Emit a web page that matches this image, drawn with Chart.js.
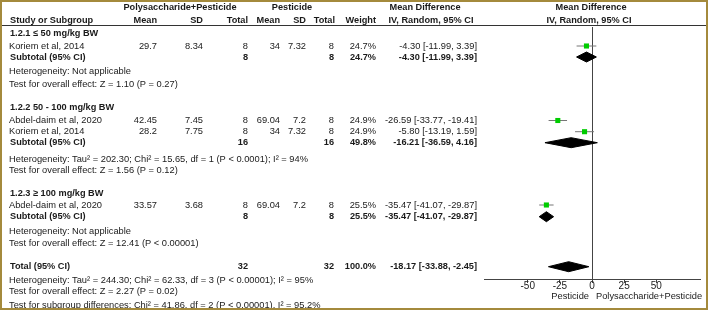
<!DOCTYPE html>
<html>
<head>
<meta charset="utf-8">
<script src="https://cdn.jsdelivr.net/npm/chart.js@4/dist/chart.umd.min.js"></script>
<style>
  html, body { margin: 0; padding: 0; background: #fff; }
  #wrap { width: 709px; height: 311px; }
</style>
</head>
<body>
<div id="wrap"><canvas id="forest" width="709" height="311"></canvas></div>
<script>
// study level data
const studyNames = ['Koriem et al, 2014', 'Abdel-daim et al, 2020', 'Koriem et al, 2014', 'Abdel-daim et al, 2020'];
const studyGroup = [0, 1, 1, 2];
const expMean = ['29.7', '42.45', '28.2', '33.57'];
const expSD = ['8.34', '7.45', '7.75', '3.68'];
const expN = [8, 8, 8, 8];
const ctlMean = ['34', '69.04', '34', '69.04'];
const ctlSD = ['7.32', '7.2', '7.32', '7.2'];
const ctlN = [8, 8, 8, 8];
const studyWeight = ['24.7%', '24.9%', '24.9%', '25.5%'];
const studyMD = [-4.30, -26.59, -5.80, -35.47];
const studyLow = [-11.99, -33.77, -13.19, -41.07];
const studyHigh = [3.39, -19.41, 1.59, -29.87];

// subgroup data
const groupNames = ['1.2.1 \u2264 50 mg/kg BW', '1.2.2 50 - 100 mg/kg BW', '1.2.3 \u2265 100 mg/kg BW'];
const groupExpN = [8, 16, 8];
const groupCtlN = [8, 16, 8];
const groupWeight = ['24.7%', '49.8%', '25.5%'];
const groupMD = [-4.30, -16.21, -35.47];
const groupLow = [-11.99, -36.59, -41.07];
const groupHigh = [3.39, 4.16, -29.87];
const groupHet = [
  'Heterogeneity: Not applicable',
  'Heterogeneity: Tau\u00b2 = 202.30; Chi\u00b2 = 15.65, df = 1 (P < 0.0001); I\u00b2 = 94%',
  'Heterogeneity: Not applicable'
];
const groupTest = [
  'Test for overall effect: Z = 1.10 (P = 0.27)',
  'Test for overall effect: Z = 1.56 (P = 0.12)',
  'Test for overall effect: Z = 12.41 (P < 0.00001)'
];

// overall
const totalN = [32, 32];
const totalWeight = '100.0%';
const totalMD = [-18.17, -33.88, -2.45]; // estimate, low, high
const totalNotes = [
  'Heterogeneity: Tau\u00b2 = 244.30; Chi\u00b2 = 62.33, df = 3 (P < 0.00001); I\u00b2 = 95%',
  'Test for overall effect: Z = 2.27 (P = 0.02)',
  'Test for subgroup differences: Chi\u00b2 = 41.86, df = 2 (P < 0.00001), I\u00b2 = 95.2%'
];

const xTicks = [-50, -25, 0, 25, 50];
const favoursLeft = 'Pesticide';
const favoursRight = 'Polysaccharide+Pesticide';

// layout: vertical position of each text line (top to bottom)
const rowY = [33, 46, 57, 71.5, 84, 107, 120.5, 131.7, 142.7, 159, 170.7, 193, 205, 216.7, 231.7, 243.3, 266.7, 280, 291.7, 305];

const FONT = "'Liberation Sans', Arial, sans-serif";
const fmt = v => v.toFixed(2);
const ciText = (m, lo, hi) => `${fmt(m)} [${fmt(lo)}, ${fmt(hi)}]`;

// build rows in display order
const rows = [];
let r = 0;
groupNames.forEach((g, gi) => {
  rows.push({ kind: 'group', y: rowY[r++], label: g });
  studyNames.forEach((s, si) => {
    if (studyGroup[si] === gi) rows.push({ kind: 'study', y: rowY[r++], idx: si });
  });
  rows.push({ kind: 'sub', y: rowY[r++], idx: gi });
  rows.push({ kind: 'note', y: rowY[r++], label: groupHet[gi] });
  rows.push({ kind: 'note', y: rowY[r++], label: groupTest[gi] });
});
rows.push({ kind: 'total', y: rowY[r++] });
totalNotes.forEach(n => rows.push({ kind: 'note', y: rowY[r++], label: n }));

// datasets
const datasets = [];
rows.filter(row => row.kind === 'study').forEach(row => {
  datasets.push({
    type: 'line',
    data: [{ x: studyLow[row.idx], y: row.y }, { x: studyHigh[row.idx], y: row.y }],
    borderColor: '#777',
    borderWidth: 1,
    pointRadius: 0,
    order: 2
  });
});
datasets.push({
  type: 'scatter',
  data: rows.filter(row => row.kind === 'study').map(row => ({ x: studyMD[row.idx], y: row.y })),
  pointStyle: 'rect',
  pointRadius: 3.6,
  backgroundColor: '#00cc00',
  borderWidth: 0,
  order: 0
});

function diamond(m, lo, hi, y, h) {
  return {
    type: 'line',
    data: [{ x: lo, y: y }, { x: m, y: y - h }, { x: hi, y: y }, { x: m, y: y + h }, { x: lo, y: y }],
    borderColor: '#000',
    backgroundColor: '#000',
    borderWidth: 1,
    pointRadius: 0,
    tension: 0,
    fill: 'shape',
    order: 1
  };
}
rows.forEach(row => {
  if (row.kind === 'sub') datasets.push(diamond(groupMD[row.idx], groupLow[row.idx], groupHigh[row.idx], row.y, 5));
  if (row.kind === 'total') datasets.push(diamond(totalMD[0], totalMD[1], totalMD[2], row.y, 5));
});

// draws the table part, header and frame
const tablePlugin = {
  id: 'forestTable',
  beforeDraw(chart) {
    const ctx = chart.ctx;
    ctx.save();
    ctx.fillStyle = '#fff';
    ctx.fillRect(0, 0, chart.width, chart.height);
    ctx.restore();
  },
  afterDraw(chart) {
    const ctx = chart.ctx;
    const ys = chart.scales.y;
    const xs = chart.scales.x;
    ctx.save();
    ctx.fillStyle = '#1a1a1a';
    ctx.textBaseline = 'middle';

    const txt = (s, x, y, align, bold) => {
      ctx.font = (bold ? 'bold 9.2px ' : '9.3px ') + FONT;
      ctx.textAlign = align || 'left';
      ctx.fillText(s, x, y);
    };

    // header
    txt('Polysaccharide+Pesticide', 180, 7.5, 'center', true);
    txt('Pesticide', 292, 7.5, 'center', true);
    txt('Mean Difference', 425, 7.5, 'center', true);
    txt('Mean Difference', 591, 7.5, 'center', true);
    txt('Study or Subgroup', 10, 20.5, 'left', true);
    txt('Mean', 157, 20.5, 'right', true);
    txt('SD', 203, 20.5, 'right', true);
    txt('Total', 248, 20.5, 'right', true);
    txt('Mean', 280, 20.5, 'right', true);
    txt('SD', 306, 20.5, 'right', true);
    txt('Total', 335, 20.5, 'right', true);
    txt('Weight', 376, 20.5, 'right', true);
    txt('IV, Random, 95% CI', 431, 20.5, 'center', true);
    txt('IV, Random, 95% CI', 589, 20.5, 'center', true);

    ctx.strokeStyle = '#333';
    ctx.lineWidth = 1;
    ctx.beginPath();
    ctx.moveTo(2, 25.5);
    ctx.lineTo(707, 25.5);
    ctx.stroke();

    rows.forEach(row => {
      const y = ys.getPixelForValue(row.y);
      if (row.kind === 'group') {
        txt(row.label, 10, y, 'left', true);
      } else if (row.kind === 'note') {
        txt(row.label, 9, y, 'left', false);
      } else if (row.kind === 'study') {
        const i = row.idx;
        txt(studyNames[i], 9, y, 'left');
        txt(expMean[i], 157, y, 'right');
        txt(expSD[i], 203, y, 'right');
        txt(String(expN[i]), 248, y, 'right');
        txt(ctlMean[i], 280, y, 'right');
        txt(ctlSD[i], 306, y, 'right');
        txt(String(ctlN[i]), 334, y, 'right');
        txt(studyWeight[i], 376, y, 'right');
        txt(ciText(studyMD[i], studyLow[i], studyHigh[i]), 477, y, 'right');
      } else if (row.kind === 'sub') {
        const i = row.idx;
        txt('Subtotal (95% CI)', 10, y, 'left', true);
        txt(String(groupExpN[i]), 248, y, 'right', true);
        txt(String(groupCtlN[i]), 334, y, 'right', true);
        txt(groupWeight[i], 376, y, 'right', true);
        txt(ciText(groupMD[i], groupLow[i], groupHigh[i]), 477, y, 'right', true);
      } else if (row.kind === 'total') {
        txt('Total (95% CI)', 10, y, 'left', true);
        txt(String(totalN[0]), 248, y, 'right', true);
        txt(String(totalN[1]), 334, y, 'right', true);
        txt(totalWeight, 376, y, 'right', true);
        txt(ciText(totalMD[0], totalMD[1], totalMD[2]), 477, y, 'right', true);
      }
    });

    // favours labels under the axis
    const x0 = xs.getPixelForValue(0);
    txt(favoursLeft, x0 - 3, 296.5, 'right');
    txt(favoursRight, x0 + 4, 296.5, 'left');

    // frame
    ctx.strokeStyle = '#a48a3c';
    ctx.lineWidth = 2;
    ctx.strokeRect(1, 1, 706, 308);
    ctx.restore();
  }
};

new Chart(document.getElementById('forest'), {
  type: 'scatter',
  data: { datasets: datasets },
  options: {
    responsive: false,
    animation: false,
    events: [],
    layout: { padding: { left: 484, right: 9, top: 27, bottom: 0 } },
    plugins: { legend: { display: false }, tooltip: { enabled: false } },
    scales: {
      x: {
        type: 'linear',
        min: -84,
        max: 84,
        afterBuildTicks: s => { s.ticks = xTicks.map(v => ({ value: v })); },
        afterFit: s => { s.height = 32; },
        grid: {
          drawOnChartArea: true,
          color: c => (c.tick && c.tick.value === 0 ? '#444' : 'rgba(0,0,0,0)'),
          tickColor: '#444',
          tickLength: 4
        },
        border: { color: '#444', width: 1 },
        ticks: { font: { family: FONT, size: 10 }, color: '#222', padding: -3, maxRotation: 0 }
      },
      y: { type: 'linear', min: 27, max: 279, reverse: true, display: false }
    }
  },
  plugins: [tablePlugin]
});
</script>
</body>
</html>
